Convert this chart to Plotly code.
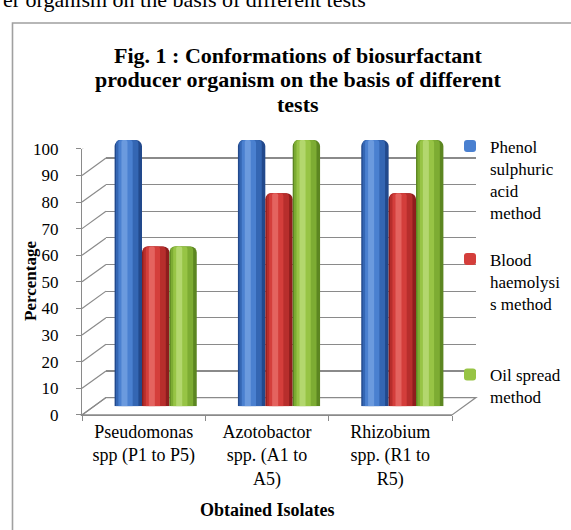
import plotly.graph_objects as go

# ---------------- data ----------------
CATEGORIES = ["Pseudomonas<br>spp (P1 to P5)",
              "Azotobactor<br>spp. (A1 to<br>A5)",
              "Rhizobium<br>spp. (R1 to<br>R5)"]
SERIES_NAMES = ["Phenol<br>sulphuric<br>acid<br>method",
                "Blood<br>haemolysi<br>s method",
                "Oil spread<br>method"]
PHENOL = [100, 100, 100]
BLOOD = [60, 80, 80]
OIL = [60, 100, 100]
Y_TICKS = [0, 10, 20, 30, 40, 50, 60, 70, 80, 90, 100]
TITLE_LINES = ["Fig. 1 : Conformations of biosurfactant",
               "producer organism on the basis of different",
               "tests"]
Y_TITLE = "Percentage"
X_TITLE = "Obtained Isolates"
DOC_TEXT = "er organism on the basis of different tests"

# ---------------- layout geometry (pixels) ----------------
W, H = 571, 530
FRONT_L, FRONT_R = 82, 452
FRONT_BASE, FRONT_TOP = 421, 145
DX, DY = 24, 18
YMAX = 100
PX_PER_UNIT = (FRONT_BASE - FRONT_TOP) / YMAX


def fx(x):
    return x / W


def fy(y):
    return 1 - y / H


SERIF = "Liberation Serif, Times New Roman, serif"
GRID = "#8a8a8a"

# shading layers for the cylinders: (width fraction, centre shift fraction, colour index)
LAYERS = [(1.0, 0.0, 0), (0.82, -0.04, 1), (0.52, -0.10, 2), (0.22, -0.14, 3)]
COLORS = [
    ["#22498c", "#3466b3", "#4a80d0", "#6b9ade"],
    ["#8e1d1d", "#b72e2c", "#d43e3b", "#e4635f"],
    ["#5c8621", "#7dac33", "#97c445", "#b3d76e"],
]
SERIES = [PHENOL, BLOOD, OIL]
LEGENDS = ["legend", "legend2", "legend3"]

fig = go.Figure()

# back wall gridlines (subplot x / y)
fig.add_trace(go.Scatter(x=[0], y=[0], xaxis="x", yaxis="y", mode="markers",
                         marker=dict(opacity=0), showlegend=False, hoverinfo="skip"))

# bars (subplot x2 / y2), cylinders faked with narrowing overlay layers
n = len(SERIES)
bw = 0.222
for i, (vals, name) in enumerate(zip(SERIES, SERIES_NAMES)):
    base_off = -n * bw / 2 + i * bw
    for (wf, sh, ci) in LAYERS:
        width = bw * wf
        off = base_off + (bw - width) / 2 + sh * bw
        fig.add_trace(go.Bar(
            x=CATEGORIES, y=vals, xaxis="x2", yaxis="y2",
            width=width, offset=off, name=name,
            marker=dict(color=COLORS[i][ci], line=dict(width=0),
                        cornerradius=max(2, int(6 * wf))),
            showlegend=(ci == 2), legend=LEGENDS[i],
            hoverinfo="skip"))

# front axis carrier (subplot x3 / y3)
fig.add_trace(go.Scatter(x=CATEGORIES, y=[0, 0, 0], xaxis="x3", yaxis="y3", mode="markers",
                         marker=dict(opacity=0), showlegend=False, hoverinfo="skip"))

# side-wall diagonals, from each front tick back to the back wall (subplot x4 / y4)
dxs, dys = [], []
for v in Y_TICKS:
    dxs += [0, 1, None]
    dys += [v, v + DY / PX_PER_UNIT, None]
fig.add_trace(go.Scatter(x=dxs, y=dys, xaxis="x4", yaxis="y4", mode="lines",
                         line=dict(color=GRID, width=1.2), cliponaxis=False,
                         showlegend=False, hoverinfo="skip"))

hidden = dict(visible=False, fixedrange=True)

fig.update_layout(
    width=W, height=H,
    margin=dict(l=0, r=0, t=0, b=0),
    paper_bgcolor="white", plot_bgcolor="rgba(0,0,0,0)",
    barmode="overlay",
    font=dict(family=SERIF, color="black"),
    xaxis=dict(domain=[fx(FRONT_L + DX), fx(FRONT_R + DX)], range=[0, 1], anchor="y",
               showgrid=False, zeroline=False, showticklabels=False, showline=False, ticks=""),
    yaxis=dict(domain=[fy(FRONT_BASE - DY), fy(FRONT_TOP - DY)], range=[0, YMAX], anchor="x",
               tickvals=Y_TICKS, showgrid=True, gridcolor=GRID, gridwidth=1.2,
               zeroline=True, zerolinecolor=GRID, zerolinewidth=1.2,
               showticklabels=False, showline=False, ticks=""),
    xaxis2=dict(domain=[fx(FRONT_L + DX / 2), fx(FRONT_R + DX / 2)], anchor="y2",
                type="category", range=[-0.5, 2.5], **hidden),
    yaxis2=dict(domain=[fy(FRONT_BASE - DY / 2), fy(FRONT_TOP - DY / 2)], anchor="x2",
                range=[0, YMAX], **hidden),
    xaxis3=dict(domain=[fx(FRONT_L), fx(FRONT_R)], anchor="y3", type="category",
                range=[-0.5, 2.5], showgrid=False, zeroline=False,
                showline=True, linecolor=GRID, linewidth=1.2,
                ticks="outside", ticklen=5, tickcolor=GRID, tickson="boundaries",
                tickfont=dict(family=SERIF, size=18, color="black"), fixedrange=True),
    yaxis3=dict(domain=[fy(FRONT_BASE), fy(FRONT_TOP)], anchor="x3", range=[0, YMAX],
                tickvals=Y_TICKS, showgrid=False, zeroline=False,
                showline=True, linecolor=GRID, linewidth=1.2,
                ticks="outside", ticklen=5, tickcolor=GRID, ticklabelstandoff=14,
                tickfont=dict(family=SERIF, size=17, color="black"), fixedrange=True),
    xaxis4=dict(domain=[fx(FRONT_L), fx(FRONT_L + DX)], range=[0, 1], anchor="y4", **hidden),
    yaxis4=dict(domain=[fy(FRONT_BASE), fy(FRONT_TOP)], range=[0, YMAX], anchor="x4", **hidden),
    showlegend=True,
)

legend_common = dict(xanchor="left", yanchor="top", valign="top", bgcolor="rgba(0,0,0,0)",
                     font=dict(family=SERIF, size=17, color="black"), borderwidth=0)
fig.update_layout(
    legend=dict(x=fx(450), y=fy(124), **legend_common),
    legend2=dict(x=fx(450), y=fy(241), **legend_common),
    legend3=dict(x=fx(450), y=fy(361), **legend_common),
)

# frame of the embedded chart and the floor
fig.add_shape(type="rect", xref="paper", yref="paper",
              x0=fx(12.5), y0=fy(14.5), x1=1.2, y1=-0.2,
              line=dict(color="#a0a0a0", width=1.6), layer="below")
floor_path = "M {} {} L {} {} L {} {} L {} {} Z".format(
    fx(FRONT_L), fy(FRONT_BASE), fx(FRONT_R), fy(FRONT_BASE),
    fx(FRONT_R + DX), fy(FRONT_BASE - DY), fx(FRONT_L + DX), fy(FRONT_BASE - DY))
fig.add_shape(type="path", xref="paper", yref="paper", path=floor_path,
              line=dict(color=GRID, width=1.2), fillcolor="white", layer="below")

# texts
ann = []
ann.append(dict(text=DOC_TEXT, x=fx(1), y=fy(5), xanchor="left", yanchor="bottom",
                font=dict(family=SERIF, size=22, color="black")))
for t, yy in zip(TITLE_LINES, [48, 73, 99]):
    ann.append(dict(text="<b>" + t + "</b>", x=fx(298), y=fy(yy), xanchor="center",
                    yanchor="middle", font=dict(family=SERIF, size=22, color="black")))
ann.append(dict(text="<b>" + Y_TITLE + "</b>", x=fx(31), y=fy(282), textangle=-90,
                xanchor="center", yanchor="middle",
                font=dict(family=SERIF, size=17, color="black")))
ann.append(dict(text="<b>" + X_TITLE + "</b>", x=fx(267), y=fy(520),
                xanchor="center", yanchor="middle",
                font=dict(family=SERIF, size=18, color="black")))
for a in ann:
    a.update(xref="paper", yref="paper", showarrow=False)
fig.update_layout(annotations=ann)

fig.write_html("out.html",
               config={"displayModeBar": False, "staticPlot": True},
               post_script="document.body.style.margin='0px';"
                           "document.documentElement.style.overflow='hidden';")
